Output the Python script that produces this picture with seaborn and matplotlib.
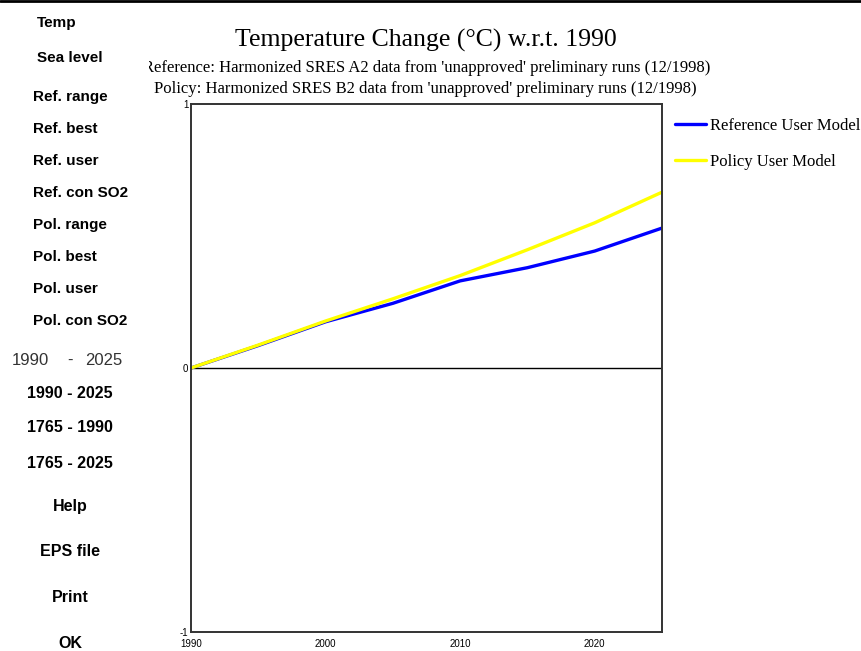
import matplotlib
matplotlib.use("Agg")
import matplotlib.pyplot as plt
from matplotlib.lines import Line2D
from matplotlib.transforms import Bbox
import seaborn as sns
import pandas as pd

# Temperature change relative to 1990 (°C)
years = [1990, 1995, 2000, 2005, 2010, 2015, 2020, 2025]
reference_user = [0.0, 0.085, 0.175, 0.245, 0.330, 0.380, 0.443, 0.530]
policy_user = [0.0, 0.087, 0.178, 0.262, 0.350, 0.448, 0.550, 0.666]

series_names = ["Reference User Model", "Policy User Model"]
series_colors = ["#0000FF", "#FFFF00"]

x_ticks = [1990, 2000, 2010, 2020]
y_ticks = [-1, 0, 1]

menu_items = ["Temp", "Sea level", "Ref. range", "Ref. best", "Ref. user",
              "Ref. con SO2", "Pol. range", "Pol. best", "Pol. user",
              "Pol. con SO2"]
menu_y = [23, 58, 97, 129, 161, 193, 225, 257, 289, 321]
menu_x = [37, 37, 33, 33, 33, 33, 33, 33, 33, 33]
period_items = ["1990 - 2025", "1765 - 1990", "1765 - 2025"]
period_y = [394, 428, 463]
action_items = ["Help", "EPS file", "Print", "OK"]
action_y = [506, 552, 598, 643]
range_start, range_end = "1990", "2025"

title = "Temperature Change (°C) w.r.t. 1990"
sub_ref = "Reference: Harmonized SRES A2 data from 'unapproved' preliminary runs (12/1998)"
sub_pol = "Policy: Harmonized SRES B2 data from 'unapproved' preliminary runs (12/1998)"

sns.set_style("white")
plt.rcParams["font.family"] = ["Liberation Sans", "DejaVu Sans"]
plt.rcParams["text.color"] = "black"
plt.rcParams["xtick.color"] = "black"
plt.rcParams["ytick.color"] = "black"

W, H = 862, 651
fig = plt.figure(figsize=(W / 100, H / 100), dpi=100)
fig.patch.set_facecolor("white")


def fy(y):
    return 1 - y / H


ax = fig.add_axes([191 / W, 19 / H, 471 / W, 528 / H])

df = pd.DataFrame({
    "year": years * 2,
    "value": reference_user + policy_user,
    "series": [series_names[0]] * len(years) + [series_names[1]] * len(years),
})
sns.lineplot(data=df, x="year", y="value", hue="series",
             palette=dict(zip(series_names, series_colors)),
             hue_order=series_names, linewidth=2.4, ax=ax, legend=False)

ax.axhline(0, color="black", lw=1.0, zorder=1)
ax.set_xlim(1990, 2025)
ax.set_ylim(-1, 1)
ax.set_xticks(x_ticks)
ax.set_xticklabels([str(v) for v in x_ticks], fontsize=7)
ax.set_yticks(y_ticks)
ax.set_yticklabels([str(v) for v in y_ticks], fontsize=7)
ax.tick_params(axis="x", length=0, pad=5)
ax.tick_params(axis="y", length=0, pad=2)
ax.set_xlabel("")
ax.set_ylabel("")
for s in ax.spines.values():
    s.set_color("#333333")
    s.set_linewidth(1.4)

# Legend outside the plot area, on the right
handles = [Line2D([0], [0], color=c, lw=2.4) for c in series_colors]
fig.legend(handles, series_names, loc="upper left",
           bbox_to_anchor=(675 / W, fy(118)), frameon=False,
           prop={"family": "Liberation Serif", "size": 12},
           handlelength=1.85, handletextpad=0.25, labelspacing=1.2,
           borderaxespad=0, borderpad=0)

# Titles
fig.text(426 / W, fy(40), title, ha="center", va="center",
         family="Liberation Serif", fontsize=18.5)
t1 = fig.text(710 / W, fy(68), sub_ref, ha="right", va="center",
              family="Liberation Serif", fontsize=12)
t1.set_clip_box(Bbox([[149, 0], [W, H]]))
t1.set_clip_on(True)
fig.text(425 / W, fy(89), sub_pol, ha="center", va="center",
         family="Liberation Serif", fontsize=12)

# Control panel labels on the left
for label, x, y in zip(menu_items, menu_x, menu_y):
    fig.text(x / W, fy(y), label, ha="left", va="center",
             fontweight="bold", fontsize=11)
fig.text(12 / W, fy(360), range_start, ha="left", va="center",
         fontsize=12, color="#333333")
fig.text(70 / W, fy(360), "-", ha="center", va="center",
         fontsize=12, color="#333333")
fig.text(122 / W, fy(360), range_end, ha="right", va="center",
         fontsize=12, color="#333333")
for label, y in zip(period_items, period_y):
    fig.text(70 / W, fy(y), label, ha="center", va="center",
             fontweight="bold", fontsize=11.5)
for label, y in zip(action_items, action_y):
    fig.text(70 / W, fy(y), label, ha="center", va="center",
             fontweight="bold", fontsize=11.5)

# Window border along the top edge
fig.add_artist(Line2D([0, 1], [fy(1), fy(1)], color="black",
                      lw=2.0, transform=fig.transFigure))

fig.savefig("out.png", dpi=100)
